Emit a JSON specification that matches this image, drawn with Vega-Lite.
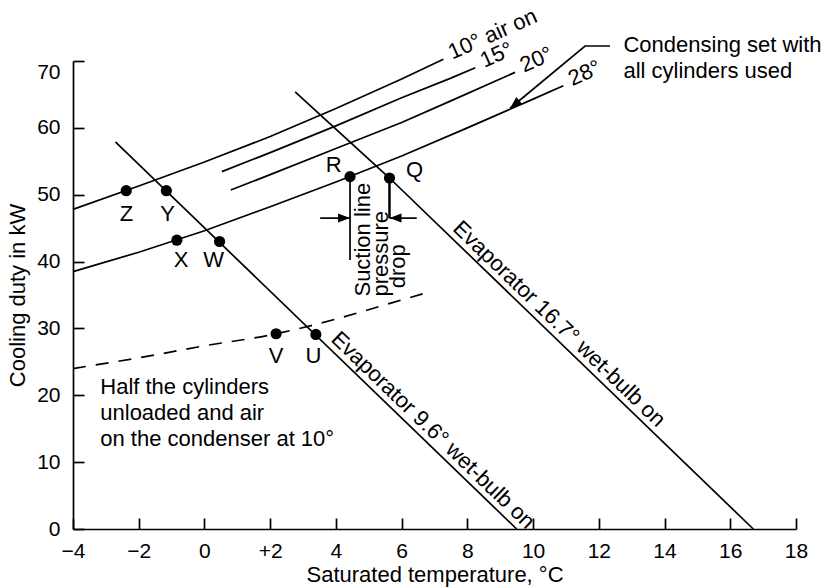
{
  "$schema": "https://vega.github.io/schema/vega-lite/v6.json",
  "width": 723,
  "height": 468,
  "autosize": {"type": "none"},
  "padding": {"left": 73, "top": 61, "right": 28, "bottom": 59},
  "background": "white",
  "config": {
    "view": {"stroke": null},
    "axis": {
      "grid": false,
      "domainColor": "black",
      "domainWidth": 1.7,
      "tickColor": "black",
      "tickWidth": 1.7,
      "labelColor": "black",
      "labelFont": "Liberation Sans",
      "labelFontSize": 21,
      "titleFont": "Liberation Sans",
      "titleFontSize": 22,
      "titleFontWeight": "normal",
      "titleColor": "black"
    },
    "text": {"font": "Liberation Sans", "fontSize": 22, "color": "black"}
  },
  "datasets": {
    "curves": [
      {"s": "c10", "x": -4, "y": 47.8},
      {"s": "c10", "x": -2, "y": 51.3},
      {"s": "c10", "x": 0, "y": 54.9},
      {"s": "c10", "x": 2, "y": 58.7},
      {"s": "c10", "x": 4, "y": 62.9},
      {"s": "c10", "x": 6, "y": 67.3},
      {"s": "c10", "x": 7.27, "y": 70.25},
      {"s": "c15", "x": 0.53, "y": 53.45},
      {"s": "c15", "x": 2, "y": 56.3},
      {"s": "c15", "x": 4, "y": 60.3},
      {"s": "c15", "x": 6, "y": 64.5},
      {"s": "c15", "x": 7.48, "y": 67.4},
      {"s": "c15", "x": 8.24, "y": 69.0},
      {"s": "c20", "x": 0.8, "y": 50.7},
      {"s": "c20", "x": 2, "y": 53.0},
      {"s": "c20", "x": 4, "y": 56.9},
      {"s": "c20", "x": 6, "y": 60.8},
      {"s": "c20", "x": 7.48, "y": 64.0},
      {"s": "c20", "x": 9.45, "y": 68.3},
      {"s": "c28", "x": -4, "y": 38.5},
      {"s": "c28", "x": -2, "y": 41.4},
      {"s": "c28", "x": 0, "y": 44.6},
      {"s": "c28", "x": 2, "y": 48.2},
      {"s": "c28", "x": 4, "y": 51.9},
      {"s": "c28", "x": 6, "y": 55.8},
      {"s": "c28", "x": 8, "y": 60.0},
      {"s": "c28", "x": 10, "y": 64.3},
      {"s": "c28", "x": 10.92, "y": 66.3},
      {"s": "e96", "x": -2.71, "y": 57.9},
      {"s": "e96", "x": 9.5, "y": 0},
      {"s": "e167", "x": 2.76, "y": 65.4},
      {"s": "e167", "x": 5.63, "y": 52.5},
      {"s": "e167", "x": 16.7, "y": 0},
      {"s": "sR", "x": 4.43, "y": 52.7},
      {"s": "sR", "x": 4.43, "y": 40.25},
      {"s": "aL", "x": 3.52, "y": 46.5},
      {"s": "aL", "x": 4.43, "y": 46.5},
      {"s": "aR", "x": 5.63, "y": 46.5},
      {"s": "aR", "x": 6.46, "y": 46.5},
      {"s": "lead", "x": 9.3, "y": 62.93},
      {"s": "lead", "x": 11.58, "y": 72.24},
      {"s": "lead", "x": 12.34, "y": 72.24}
    ],
    "thick": [
      {"s": "sQ", "x": 5.63, "y": 52.5},
      {"s": "sQ", "x": 5.63, "y": 46.5}
    ],
    "half": [
      {"x": -4, "y": 24.0},
      {"x": -2, "y": 25.6},
      {"x": -0.12, "y": 27.3},
      {"x": 2.18, "y": 29.2},
      {"x": 4, "y": 31.4},
      {"x": 5.75, "y": 33.9},
      {"x": 6.81, "y": 35.4}
    ],
    "points": [
      {"p": "Z", "x": -2.38, "y": 50.6},
      {"p": "Y", "x": -1.16, "y": 50.6},
      {"p": "X", "x": -0.84, "y": 43.2},
      {"p": "W", "x": 0.46, "y": 43.0},
      {"p": "R", "x": 4.43, "y": 52.7},
      {"p": "Q", "x": 5.63, "y": 52.5},
      {"p": "V", "x": 2.18, "y": 29.2},
      {"p": "U", "x": 3.39, "y": 29.1}
    ],
    "letters": [
      {"t": "Z", "x": -2.37, "y": 46.13},
      {"t": "Y", "x": -1.12, "y": 46.13},
      {"t": "X", "x": -0.71, "y": 39.16},
      {"t": "W", "x": 0.28, "y": 39.16},
      {"t": "R", "x": 3.93, "y": 53.36},
      {"t": "Q", "x": 6.39, "y": 52.7},
      {"t": "V", "x": 2.18, "y": 24.81},
      {"t": "U", "x": 3.32, "y": 24.81}
    ],
    "curveLabels": [
      {"t": "10° air on", "x": 7.27, "y": 70.25},
      {"t": "15°", "x": 8.24, "y": 69.0},
      {"t": "20°", "x": 9.45, "y": 68.3},
      {"t": "28°", "x": 10.92, "y": 66.3}
    ],
    "evapLabels": [
      {"t": "Evaporator 9.6° wet-bulb on", "x": 3.69, "y": 27.56},
      {"t": "Evaporator 16.7° wet-bulb on", "x": 7.4, "y": 44.1}
    ],
    "suction": [
      {"t": "Suction line", "x": 5.04, "y": 34.77},
      {"t": "pressure", "x": 5.59, "y": 34.77},
      {"t": "drop", "x": 6.11, "y": 36.0}
    ],
    "notes": [
      {"t": "Half the cylinders\nunloaded and air\non the condenser at 10°", "x": -3.17, "y": 20.22},
      {"t": "Condensing set with\nall cylinders used", "x": 12.75, "y": 71.3}
    ],
    "headR": [{"x": 4.43, "y": 46.5}],
    "headL": [{"x": 5.63, "y": 46.5}],
    "headLead": [{"x": 9.3, "y": 62.93}]
  },
  "encoding": {
    "x": {
      "field": "x",
      "type": "quantitative",
      "scale": {"domain": [-4, 18], "nice": false, "zero": false},
      "axis": {
        "values": [-4, -2, 0, 2, 4, 6, 8, 10, 12, 14, 16, 18],
        "title": "Saturated temperature, °C",
        "labelExpr": "datum.value == 2 ? '+2' : datum.label",
        "labelFlush": false,
        "labelOverlap": false,
        "tickSize": -11,
        "labelPadding": 22,
        "titlePadding": 3
      }
    },
    "y": {
      "field": "y",
      "type": "quantitative",
      "scale": {"domain": [0, 70], "nice": false, "zero": false},
      "axis": {
        "values": [0, 10, 20, 30, 40, 50, 60, 70],
        "title": "Cooling duty in kW",
        "labelFlush": false,
        "labelOverlap": false,
        "labelBaseline": {"condition": {"test": "datum.value == 70", "value": "top"}, "value": "middle"},
        "tickSize": -11,
        "labelPadding": 24,
        "titlePadding": 7
      }
    }
  },
  "layer": [
    {
      "data": {"name": "curves"},
      "mark": {"type": "line", "color": "black", "strokeWidth": 1.7, "interpolate": "linear"},
      "encoding": {"detail": {"field": "s"}}
    },
    {
      "data": {"name": "thick"},
      "mark": {"type": "line", "color": "black", "strokeWidth": 2.5},
      "encoding": {"detail": {"field": "s"}}
    },
    {
      "data": {"name": "half"},
      "mark": {"type": "line", "color": "black", "strokeWidth": 1.7, "strokeDash": [13, 10], "interpolate": "monotone"},
      "encoding": {}
    },
    {
      "data": {"name": "points"},
      "mark": {"type": "point", "filled": true, "shape": "circle", "size": 125, "color": "black", "opacity": 1}
    },
    {
      "data": {"name": "headR"},
      "mark": {"type": "point", "filled": true, "shape": "M0,0L-2.4,-0.9L-2.4,0.9Z", "size": 100, "color": "black", "opacity": 1}
    },
    {
      "data": {"name": "headL"},
      "mark": {"type": "point", "filled": true, "shape": "M0,0L2.4,-0.9L2.4,0.9Z", "size": 100, "color": "black", "opacity": 1}
    },
    {
      "data": {"name": "headLead"},
      "mark": {"type": "point", "filled": true, "shape": "M0,0L-2.4,-0.9L-2.4,0.9Z", "size": 100, "angle": 140, "color": "black", "opacity": 1}
    },
    {
      "data": {"name": "letters"},
      "mark": {"type": "text", "align": "center", "baseline": "alphabetic"},
      "encoding": {"text": {"field": "t"}}
    },
    {
      "data": {"name": "curveLabels"},
      "mark": {"type": "text", "align": "left", "baseline": "middle", "angle": 336, "dx": 8, "dy": -3},
      "encoding": {"text": {"field": "t"}}
    },
    {
      "data": {"name": "evapLabels"},
      "mark": {"type": "text", "align": "left", "baseline": "alphabetic", "angle": 44, "dy": -6},
      "encoding": {"text": {"field": "t"}}
    },
    {
      "data": {"name": "suction"},
      "mark": {"type": "text", "align": "left", "baseline": "alphabetic", "angle": 270},
      "encoding": {"text": {"field": "t"}}
    },
    {
      "data": {"name": "notes"},
      "mark": {"type": "text", "align": "left", "baseline": "alphabetic", "lineBreak": "\n", "lineHeight": 26},
      "encoding": {"text": {"field": "t"}}
    }
  ]
}
